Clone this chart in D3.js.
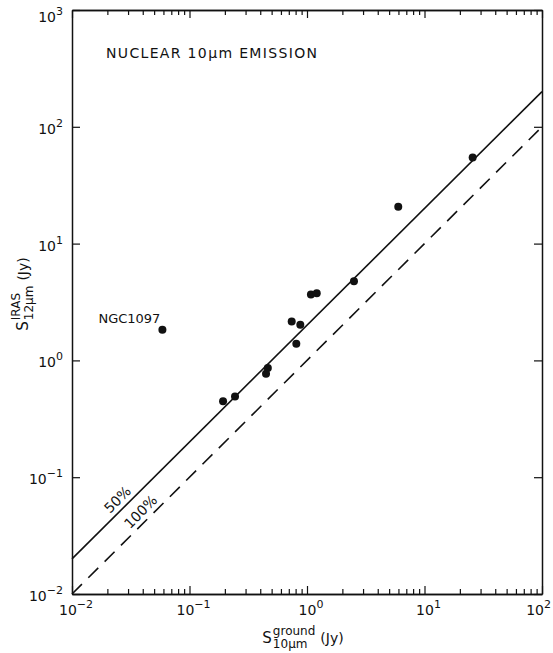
<!DOCTYPE html>
<html>
<head>
<meta charset="utf-8">
<script src="https://cdn.jsdelivr.net/npm/d3@7"></script>
<style>
  body { margin: 0; background: #fff; }
  text { font-family: "DejaVu Sans", sans-serif; fill: #111; }
</style>
</head>
<body>
<div id="chart"></div>
<script>
// ground-based 10um flux vs IRAS 12um flux (Jy)
const groundFlux = [0.0588, 0.193, 0.244, 0.448, 0.464, 0.811, 0.741, 0.877, 1.08, 1.21, 2.51, 5.98, 25.7]
const irasFlux   = [1.83,   0.447, 0.49,  0.769, 0.859, 1.39,  2.15,  2.02,  3.66, 3.76, 4.76, 20.7, 54.7]
const xDecades = [-2, -1, 0, 1, 2]
const yDecades = [-2, -1, 0, 1, 2, 3]
// reference lines: IRAS = ratio * ground
const refLines = [{ratio: 2, label: '50%', at: 0.028, dash: null},
                  {ratio: 1, label: '100%', at: 0.044, dash: '14,9'}]

let width = 553, height = 653
let margin = {top: 10, right: 11, bottom: 59, left: 72}

let x = d3.scaleLog().domain([1e-2, 1e2]).range([margin.left, width - margin.right])
let y = d3.scaleLog().domain([1e-2, 1e3]).range([height - margin.bottom, margin.top])

let svg = d3.select('#chart').append('svg')
    .attr('width', width)
    .attr('height', height)

let data = groundFlux.map(function(d, i){ return {x: d, y: irasFlux[i]} })

let majorX = xDecades.map(function(p){ return Math.pow(10, p) })
let minorX = []
xDecades.slice(0, -1).forEach(function(p){
  for (let k = 2; k < 10; k++) minorX.push(k * Math.pow(10, p))
})
let majorY = yDecades.map(function(p){ return Math.pow(10, p) })

// axes (ticks point inward)
let x0 = x.range()[0], x1 = x.range()[1]
let y0 = y.range()[0], y1 = y.range()[1]

function tickAxis(axis, vals, size, transform){
  svg.append('g')
    .attr('transform', transform)
    .call(axis.tickValues(vals).tickSize(size).tickFormat('').tickSizeOuter(0))
    .call(function(g){
      g.select('.domain').attr('stroke', '#111').attr('stroke-width', 1.5)
      g.selectAll('.tick line').attr('stroke', '#111').attr('stroke-width', 1.2)
    })
}
tickAxis(d3.axisBottom(x), majorX, -8, 'translate(0,' + y0 + ')')
tickAxis(d3.axisBottom(x), minorX, -5, 'translate(0,' + y0 + ')')
tickAxis(d3.axisTop(x), majorX, -8, 'translate(0,' + y1 + ')')
tickAxis(d3.axisTop(x), minorX, -5, 'translate(0,' + y1 + ')')
tickAxis(d3.axisLeft(y), majorY, -8, 'translate(' + x0 + ',0)')
tickAxis(d3.axisRight(y), majorY, -8, 'translate(' + x1 + ',0)')

// tick labels as 10^n
function powerLabel(px, py, p, anchor){
  let t = svg.append('text')
    .attr('x', px).attr('y', py)
    .attr('text-anchor', anchor)
    .style('font-size', '14px')
  t.append('tspan').text('10')
  t.append('tspan').attr('dy', -7).style('font-size', '11px').text(String(p).replace('-', '\u2212'))
  return t
}
xDecades.forEach(function(p, i){
  if (i === xDecades.length - 1) powerLabel(width - 2, y0 + 21, p, 'end')
  else powerLabel(x(Math.pow(10, p)) + 4, y0 + 21, p, 'middle')
})
yDecades.forEach(function(p, i){
  let py = y(Math.pow(10, p)) + (i === yDecades.length - 1 ? 12 : 7)
  powerLabel(x0 - 9, py, p, 'end')
})

// reference lines
let lineGen = d3.line().x(function(d){ return x(d[0]) }).y(function(d){ return y(d[1]) })
refLines.forEach(function(r){
  let pts = [[1e-2, 1e-2 * r.ratio], [1e2, 1e2 * r.ratio]]
  svg.append('path')
    .attr('d', lineGen(pts))
    .attr('fill', 'none')
    .attr('stroke', '#111')
    .attr('stroke-width', 1.6)
    .attr('stroke-dasharray', r.dash)

  let ang = Math.atan2(y(1e2 * r.ratio) - y(1e-2 * r.ratio), x(1e2) - x(1e-2)) * 180 / Math.PI
  let lx = x(r.at), ly = y(r.at * r.ratio)
  svg.append('text')
    .attr('transform', 'translate(' + lx + ',' + ly + ') rotate(' + ang + ')')
    .attr('x', 0).attr('y', -5)
    .attr('text-anchor', 'middle')
    .style('font-size', '14px')
    .text(r.label)
})

// data points
svg.append('g').selectAll('circle')
  .data(data)
  .enter().append('circle')
  .attr('cx', function(d){ return x(d.x) })
  .attr('cy', function(d){ return y(d.y) })
  .attr('r', 4)
  .attr('fill', '#111')

svg.append('text')
  .attr('x', x(data[0].x) - 2).attr('y', y(data[0].y) - 7)
  .attr('text-anchor', 'end')
  .style('font-size', '13px')
  .text('NGC1097')

// title
svg.append('text')
  .attr('x', 106).attr('y', 58)
  .style('font-size', '14px')
  .attr('textLength', 211)
  .text('NUCLEAR 10\u03bcm EMISSION')

// axis titles: S with super/subscript + (Jy)
function fluxLabel(g, sup, sub){
  let s = g.append('text').attr('x', 0).attr('y', 0).style('font-size', '15px').text('S')
  let ws = s.node().getComputedTextLength()
  let a = g.append('text').attr('x', ws + 1).attr('y', -8).style('font-size', '12px').text(sup)
  let b = g.append('text').attr('x', ws + 1).attr('y', 5).style('font-size', '12px').text(sub)
  let w2 = Math.max(a.node().getComputedTextLength(), b.node().getComputedTextLength())
  let tail = g.append('text').attr('x', ws + w2 + 6).attr('y', 0).style('font-size', '14px').text('(Jy)')
  return ws + w2 + 6 + tail.node().getComputedTextLength()
}
let xTitle = svg.append('g')
let wx = fluxLabel(xTitle, 'ground', '10\u03bcm')
xTitle.attr('transform', 'translate(' + (303 - wx / 2) + ',643)')

let yTitle = svg.append('g')
let wy = fluxLabel(yTitle, 'IRAS', '12\u03bcm')
yTitle.attr('transform', 'translate(28,' + (294 + wy / 2) + ') rotate(-90)')
</script>
</body>
</html>
